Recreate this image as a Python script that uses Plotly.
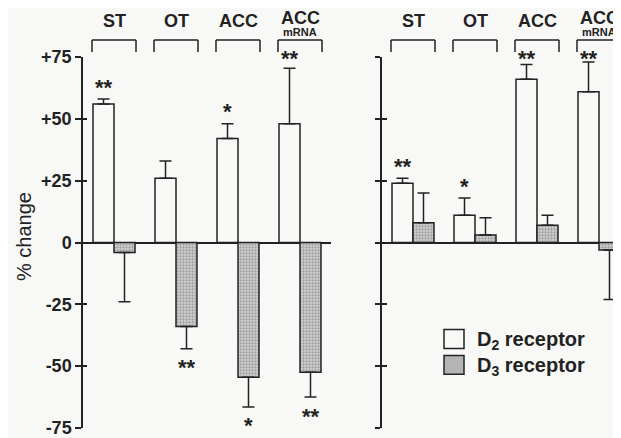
import plotly.graph_objects as go

# ---------------- data ----------------
categories = ["ST", "OT", "ACC", "ACC mRNA"]
group_labels = ["ST", "OT", "ACC", "ACC"]
group_sublabels = ["", "", "", "mRNA"]

left_d2 = [56, 26, 42, 48]
left_d2_err = [2, 7, 6, 22.5]
left_d3 = [-4, -34, -54.5, -52.5]
left_d3_err = [20, 9, 12, 10]
left_d2_stars = ["**", "", "*", "**"]
left_d3_stars = ["", "**", "*", "**"]

right_d2 = [24, 11, 66, 61]
right_d2_err = [2, 7, 6, 12]
right_d3 = [8, 3, 7, -3]
right_d3_err = [12, 7, 4, 20]
right_d2_stars = ["**", "*", "**", "**"]
right_d3_stars = ["", "", "", ""]

ytick_vals = [-75, -50, -25, 0, 25, 50, 75]
ytick_text = ["-75", "-50", "-25", "0", "+25", "+50", "+75"]

# ---------------- style ----------------
BG = "#f8f8f6"
INK = "#222"
FONT = "Liberation Sans, Arial, sans-serif"
OFF = 8  # page body margin
W, H = 621 - OFF, 438 - OFF
ML, MT = 83 - OFF, 57 - OFF
MB = H - (430 - OFF)
MR = 0
PW, PH = W - ML - MR, H - MT - MB
PX_PER_UNIT = PH / 150.0


def px_x(p):  # screen px -> paper
    return (p - OFF - ML) / PW


def px_y(p):
    return (H - MB - (p - OFF)) / PH


LEFT_DOM = [0, px_x(331)]
RIGHT_DOM = [px_x(382), 1]
RIGHT_MAX = -0.5 + (621 - 382) / ((331 - 83) / 4.0)

fig = go.Figure()

panels = [
    ("x", "y", left_d2, left_d2_err, left_d3, left_d3_err, left_d2_stars, left_d3_stars),
    ("x2", "y2", right_d2, right_d2_err, right_d3, right_d3_err, right_d2_stars, right_d3_stars),
]

annotations = []
shapes = []

for xa, ya, d2, d2e, d3, d3e, s2, s3 in panels:
    for vals, errs, stars, name, shift in [
        (d2, d2e, s2, "D2", -10.5),
        (d3, d3e, s3, "D3", 10.5),
    ]:
        plus = [e if v >= 0 else 0 for v, e in zip(vals, errs)]
        minus = [e if v < 0 else 0 for v, e in zip(vals, errs)]
        if name == "D2":
            marker = dict(color=BG, line=dict(color=INK, width=1.5))
        else:
            marker = dict(
                color="#bdbdbd",
                line=dict(color=INK, width=1.5),
                pattern=dict(shape=".", fgcolor="#6a6a6a", bgcolor="#d2d2d2",
                             size=3, solidity=0.45),
            )
        fig.add_trace(go.Bar(
            x=categories, y=vals, name=name, xaxis=xa, yaxis=ya,
            marker=marker, showlegend=False,
            error_y=dict(type="data", symmetric=False, array=plus, arrayminus=minus,
                         color=INK, thickness=1.5, width=6),
        ))
        for cat, v, e, st in zip(categories, vals, errs, stars):
            if not st:
                continue
            if v >= 0:
                end = v + e
                target = min(end + 6.8, 76.5)
            else:
                end = v - e
                target = end - 5.6
            anchor = max(min(end, 74.9), -74.9)
            annotations.append(dict(
                x=cat, y=anchor, xref=xa, yref=ya, text="<b>%s</b>" % st,
                showarrow=False, xshift=shift,
                yshift=(target - anchor) * PX_PER_UNIT - 5, yanchor="middle",
                font=dict(family=FONT, size=22, color=INK),
            ))
    # group labels and brackets
    for i, (lab, sub) in enumerate(zip(group_labels, group_sublabels)):
        annotations.append(dict(
            x=categories[i], y=px_y(18 if sub else 21), xref=xa, yref="paper",
            text="<b>%s</b>" % lab, showarrow=False, yanchor="middle",
            font=dict(family=FONT, size=18, color=INK),
        ))
        if sub:
            annotations.append(dict(
                x=categories[i], y=px_y(31.5), xref=xa, yref="paper",
                text="<b>%s</b>" % sub, showarrow=False, yanchor="middle",
                font=dict(family=FONT, size=11, color=INK),
            ))
        x0, x1 = i - 0.355, i + 0.355
        yt, yb = px_y(40), px_y(52)
        for (a, b, c, d) in [(x0, yb, x0, yt), (x0, yt, x1, yt), (x1, yt, x1, yb)]:
            shapes.append(dict(type="line", xref=xa, yref="paper", x0=a, y0=b, x1=c, y1=d,
                               line=dict(color=INK, width=1.5)))

# invisible helper traces for inside tick axes
fig.add_trace(go.Scatter(x=[categories[0]], y=[0], xaxis="x", yaxis="y3", mode="markers",
                         marker=dict(opacity=0), showlegend=False, hoverinfo="skip"))
fig.add_trace(go.Scatter(x=[categories[0]], y=[0], xaxis="x2", yaxis="y4", mode="markers",
                         marker=dict(opacity=0), showlegend=False, hoverinfo="skip"))

# y axis title
annotations.append(dict(
    x=px_x(24), y=px_y(238), xref="paper", yref="paper", text="% change",
    xanchor="center", yanchor="middle",
    textangle=-90, showarrow=False, font=dict(family=FONT, size=20, color=INK),
))

# manual legend
legend_items = [("D<sub>2</sub> receptor", BG, 331), ("D<sub>3</sub> receptor", "#b4b4b4", 357)]
for text, fill, top in legend_items:
    shapes.append(dict(type="rect", xref="paper", yref="paper",
                       x0=px_x(444), x1=px_x(464), y0=px_y(top + 19), y1=px_y(top),
                       fillcolor=fill, line=dict(color=INK, width=1.5)))
    annotations.append(dict(
        x=px_x(475), y=px_y(top + 11), xref="paper", yref="paper", text="<b>%s</b>" % text,
        xanchor="left", yanchor="middle", showarrow=False,
        font=dict(family=FONT, size=20, color=INK),
    ))

yaxis_common = dict(range=[-75, 75], tickvals=ytick_vals, showgrid=False,
                    zeroline=True, zerolinecolor=INK, zerolinewidth=1.5,
                    linecolor=INK, linewidth=1.5, tickcolor=INK, tickwidth=1.5)

xaxis_common = dict(showticklabels=False, showgrid=False, zeroline=False, showline=False,
                    ticks="", type="category")

fig.update_layout(
    width=W, height=H,
    margin=dict(l=ML, r=MR, t=MT, b=MB, pad=0),
    paper_bgcolor=BG, plot_bgcolor=BG,
    barmode="group", bargap=0.323, bargroupgap=0,
    showlegend=False,
    xaxis=dict(domain=LEFT_DOM, range=[-0.5, 3.5], **xaxis_common),
    xaxis2=dict(domain=RIGHT_DOM, range=[-0.5, RIGHT_MAX], anchor="y2", **xaxis_common),
    yaxis=dict(anchor="x", showline=True, ticks="outside", ticklen=6,
               ticktext=ytick_text, ticklabeloverflow="allow",
               tickfont=dict(family=FONT, size=18, color=INK, weight="bold"),
               **yaxis_common),
    yaxis2=dict(anchor="x2", showline=True, ticks="outside", ticklen=5,
                showticklabels=False, **yaxis_common),
    yaxis3=dict(anchor="x", overlaying="y", side="left", range=[-75, 75], tickvals=ytick_vals,
                ticks="inside", ticklen=4, tickcolor=INK, tickwidth=1.5,
                showticklabels=False, showgrid=False, zeroline=False, showline=False),
    yaxis4=dict(anchor="x2", overlaying="y2", side="left", range=[-75, 75], tickvals=ytick_vals,
                ticks="inside", ticklen=5, tickcolor=INK, tickwidth=1.5,
                showticklabels=False, showgrid=False, zeroline=False, showline=False),
    annotations=annotations,
    shapes=shapes,
)

fig.write_html("out.html")
